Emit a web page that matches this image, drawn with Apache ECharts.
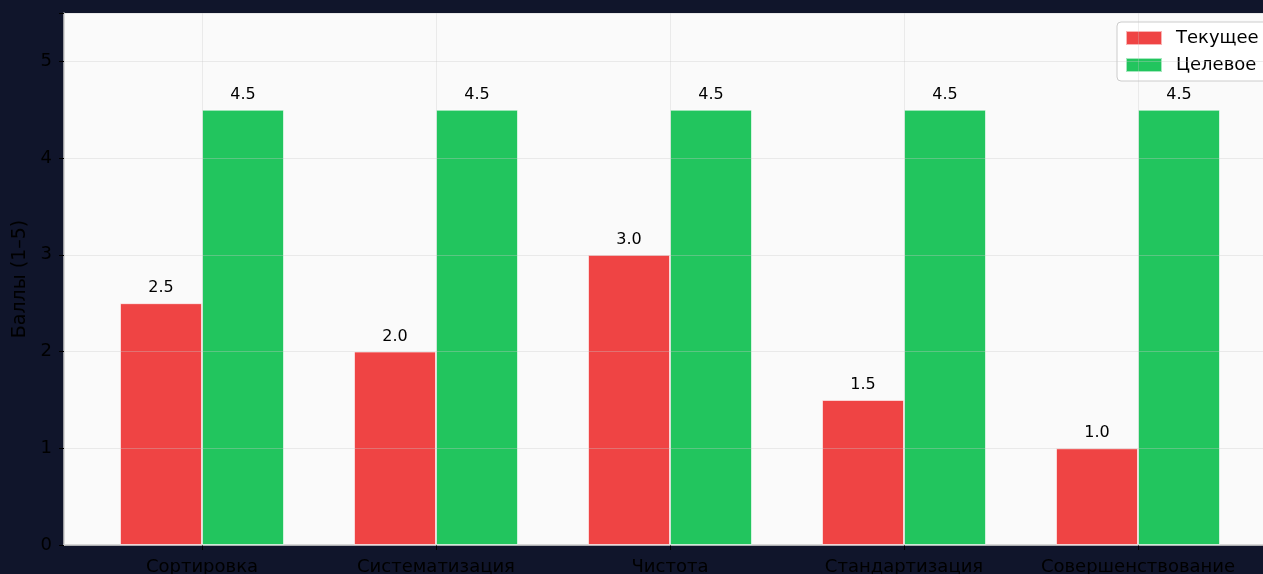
<!DOCTYPE html>
<html>
<head>
<meta charset="utf-8">
<script src="https://cdn.jsdelivr.net/npm/echarts@6/dist/echarts.min.js"></script>
<style>
  html, body { margin: 0; padding: 0; background: #10152b; }
  #chart { width: 1263px; height: 574px; }
</style>
</head>
<body>
<div id="chart"></div>
<script>
// данные
var categories = ['Сортировка', 'Систематизация', 'Чистота', 'Стандартизация', 'Совершенствование'];
var currentScores = [2.5, 2.0, 3.0, 1.5, 1.0];
var targetScores = [4.5, 4.5, 4.5, 4.5, 4.5];
var yTicks = [0, 1, 2, 3, 4, 5];
var seriesNames = ['Текущее', 'Целевое'];

var FONT = 'DejaVu Sans';
var myChart = echarts.init(document.getElementById('chart'));

var fmt = function (p) { return Number(p.value).toFixed(1); };

option = {
    backgroundColor: '#10152b',
    animation: false,
    textStyle: { fontFamily: FONT },
    legend: {
        data: seriesNames,
        orient: 'vertical',
        left: 1117,
        top: 22,
        padding: [7, 40, 7, 8],
        icon: 'rect',
        itemWidth: 36,
        itemHeight: 14,
        itemGap: 9,
        backgroundColor: '#ffffff',
        borderColor: '#cccccc',
        borderWidth: 1,
        borderRadius: 4,
        textStyle: { fontSize: 18, color: '#000', fontFamily: FONT, padding: [0, 0, 0, 9] }
    },
    grid: [
        // фон и оси
        { left: 64, right: -13, top: 13, bottom: 29, show: true, backgroundColor: '#fafafa', borderWidth: 0, outerBoundsMode: 'none' },
        // столбцы
        { left: 85, right: 8, top: 13, bottom: 29, outerBoundsMode: 'none' }
    ],
    xAxis: [
        {
            gridIndex: 0, type: 'value', min: 0, max: 1,
            axisLabel: { show: false }, axisTick: { show: false }, splitLine: { show: false },
            axisLine: { show: true, lineStyle: { color: '#cccccc', width: 1.5 } }
        },
        {
            gridIndex: 1, type: 'category', data: categories,
            axisLine: { show: false },
            axisTick: { show: true, alignWithLabel: true, length: 5, lineStyle: { color: '#000' } },
            axisLabel: { fontSize: 18, color: '#000', margin: 13, fontFamily: FONT, interval: 0 }
        }
    ],
    yAxis: [
        {
            gridIndex: 0, type: 'value', min: 0, max: 5.5, interval: 1, z: 5,
            name: 'Баллы (1–5)', nameLocation: 'middle', nameGap: 31,
            nameTextStyle: { fontSize: 19, color: '#000', fontFamily: FONT },
            axisLine: { show: true, lineStyle: { color: '#cccccc', width: 1.5 } },
            axisTick: { show: true, length: 5, lineStyle: { color: '#000' } },
            axisLabel: {
                fontSize: 18, color: '#000', margin: 12, fontFamily: FONT,
                formatter: function (v) { return yTicks.indexOf(v) >= 0 ? String(v) : ''; }
            },
            splitLine: { show: true, lineStyle: { color: 'rgba(200,200,200,0.35)', width: 1 } }
        },
        {
            gridIndex: 1, type: 'value', min: 0, max: 5.5, show: false
        }
    ],
    series: [
        {
            name: seriesNames[0], type: 'bar', xAxisIndex: 1, yAxisIndex: 1,
            data: currentScores, barWidth: 82, barGap: '0%',
            itemStyle: { color: '#ef4444', borderColor: 'rgba(255,255,255,0.6)', borderWidth: 1 },
            label: { show: true, position: 'top', distance: 7, fontSize: 16, color: '#000', fontFamily: FONT, formatter: fmt }
        },
        {
            name: seriesNames[1], type: 'bar', xAxisIndex: 1, yAxisIndex: 1,
            data: targetScores, barWidth: 82, barGap: '0%',
            itemStyle: { color: '#22c55e', borderColor: 'rgba(255,255,255,0.6)', borderWidth: 1 },
            label: { show: true, position: 'top', distance: 7, fontSize: 16, color: '#000', fontFamily: FONT, formatter: fmt }
        },
        {
            // вертикальная сетка по центрам категорий
            name: 'grid-x', type: 'line', xAxisIndex: 1, yAxisIndex: 1,
            data: [], silent: true, z: 6,
            markLine: {
                silent: true, symbol: 'none',
                label: { show: false },
                lineStyle: { color: 'rgba(200,200,200,0.3)', type: 'solid', width: 1 },
                data: categories.map(function (c) { return { xAxis: c }; })
            }
        }
    ]
};
myChart.setOption(option);
</script>
</body>
</html>
